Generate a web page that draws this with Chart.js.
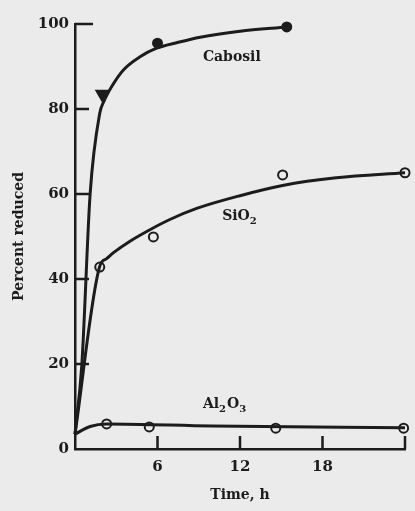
<!DOCTYPE html>
<html>
<head>
<meta charset="utf-8">
<script src="https://cdn.jsdelivr.net/npm/chart.js@4/dist/chart.umd.min.js"></script>
<style>
  html, body { margin: 0; padding: 0; background: #ebebeb; }
  canvas { display: block; }
</style>
</head>
<body>
<canvas id="chart" width="415" height="511"></canvas>
<script>
// ===========================
// DATA
// ===========================
const xTicks = [6, 12, 18, 24];
const yTicks = [0, 20, 40, 60, 80, 100];

// measured points
const cabosilHours  = [2.0, 6.0, 15.4];
const cabosilValues = [83.5, 95.5, 99.3];
const sio2Hours     = [1.8, 5.7, 15.1, 24];
const sio2Values    = [42.8, 49.9, 64.5, 65];
const aloHours      = [2.3, 5.4, 14.6, 23.9];
const aloValues     = [5.9, 5.2, 4.9, 4.9];

// hand-drawn fitted curves
const cabosilCurveHours  = [0, 0.5, 1.1, 1.8, 2.1, 2.67, 3.52, 4.73, 5.94, 7.4, 9.1, 12, 15.4];
const cabosilCurveValues = [3.5, 20, 60, 79, 81.8, 85.3, 89.2, 92.3, 94.3, 95.6, 96.9, 98.3, 99.3];
const sio2CurveHours     = [0, 1.8, 2.3, 2.8, 4.0, 5.45, 6.9, 8.85, 12, 15.1, 19, 24];
const sio2CurveValues    = [3.5, 43, 44.8, 46.2, 48.9, 51.6, 54.0, 56.6, 59.6, 62.0, 63.8, 65];
const aloCurveHours      = [0, 1.1, 2.3, 10, 24];
const aloCurveValues     = [3.5, 5.3, 5.9, 5.4, 5.0];

// series labels: [text parts, hour, percent]
const seriesLabels = [
  { parts: [['Cabosil', false]], x: 9.3, y: 91.3 },
  { parts: [['SiO', false], ['2', true]], x: 10.7, y: 53.9 },
  { parts: [['Al', false], ['2', true], ['O', false], ['3', true]], x: 9.3, y: 9.6 }
];

const INK = '#1c1c1c';
const FONT = "'DejaVu Serif', serif";

const pts = (xs, ys) => xs.map((x, i) => ({ x, y: ys[i] }));

Chart.defaults.font.family = FONT;
Chart.defaults.font.size = 15;
Chart.defaults.font.weight = 'bold';
Chart.defaults.color = INK;

// ticks point inward, drawn from the scales
const inwardTicks = {
  id: 'inwardTicks',
  afterDatasetsDraw(chart) {
    const { ctx, chartArea, scales: { x, y } } = chart;
    ctx.save();
    ctx.strokeStyle = INK;
    ctx.lineWidth = 2.5;
    ctx.beginPath();
    xTicks.forEach(v => {
      const px = x.getPixelForValue(v);
      ctx.moveTo(px, chartArea.bottom);
      ctx.lineTo(px, chartArea.bottom - 13);
    });
    yTicks.filter(v => v > 0).forEach(v => {
      const py = y.getPixelForValue(v);
      ctx.moveTo(chartArea.left, py);
      ctx.lineTo(chartArea.left + (v === 100 ? 18 : 14), py);
    });
    ctx.stroke();
    ctx.restore();
  }
};

const curveLabels = {
  id: 'curveLabels',
  afterDatasetsDraw(chart) {
    const { ctx, scales: { x, y } } = chart;
    ctx.save();
    ctx.fillStyle = INK;
    ctx.textBaseline = 'alphabetic';
    seriesLabels.forEach(l => {
      let px = x.getPixelForValue(l.x);
      const py = y.getPixelForValue(l.y);
      l.parts.forEach(([t, sub]) => {
        ctx.font = `bold ${sub ? 10 : 14}px ${FONT}`;
        ctx.fillText(t, px, sub ? py + 4 : py);
        px += ctx.measureText(t).width + (sub ? 1 : 0);
      });
    });
    ctx.restore();
  }
};

const curve = (xs, ys) => ({
  data: pts(xs, ys),
  showLine: true,
  borderColor: INK,
  borderWidth: 3,
  pointRadius: 0,
  cubicInterpolationMode: 'monotone',
  clip: false
});

const markers = (xs, ys, style, filled, radius, rotation) => ({
  data: pts(xs, ys),
  showLine: false,
  pointStyle: style,
  pointRadius: radius,
  rotation: rotation || 0,
  pointBackgroundColor: filled ? INK : '#ebebeb',
  pointBorderColor: INK,
  pointBorderWidth: 2,
  clip: false
});

const cabosilMarkers = markers(cabosilHours, cabosilValues, 'circle', true, 4.5);
// the 2 h Cabosil point is a downward triangle
cabosilMarkers.pointStyle = ['triangle', 'circle', 'circle'];
cabosilMarkers.pointRadius = [7, 4.5, 4.5];
cabosilMarkers.rotation = [180, 0, 0];

new Chart(document.getElementById('chart'), {
  type: 'scatter',
  data: {
    datasets: [
      curve(cabosilCurveHours, cabosilCurveValues),
      curve(sio2CurveHours, sio2CurveValues),
      curve(aloCurveHours, aloCurveValues),
      cabosilMarkers,
      markers(sio2Hours, sio2Values, 'circle', false, 4.5),
      markers(aloHours, aloValues, 'circle', false, 4.5)
    ]
  },
  options: {
    responsive: false,
    animation: false,
    layout: { padding: { top: 24, right: 10, left: 0, bottom: 0 } },
    plugins: { legend: { display: false }, tooltip: { enabled: false } },
    scales: {
      x: {
        type: 'linear', min: 0, max: 24,
        afterBuildTicks: s => { s.ticks = xTicks.map(v => ({ value: v })); },
        afterFit: s => { s.height = 62; },
        ticks: { padding: 9, callback: v => (v === 24 ? '' : v) },
        grid: { display: true, drawOnChartArea: false, drawTicks: false },
        border: { display: true, color: INK, width: 2.5 },
        title: { display: true, text: 'Time, h', font: { size: 14, weight: 'bold' }, padding: { bottom: 7 } }
      },
      y: {
        type: 'linear', min: 0, max: 100,
        afterBuildTicks: s => { s.ticks = yTicks.map(v => ({ value: v })); },
        afterFit: s => { s.width = 75; },
        ticks: { padding: 6 },
        grid: { display: true, drawOnChartArea: false, drawTicks: false },
        border: { display: true, color: INK, width: 2.5 },
        title: { display: true, text: 'Percent reduced', font: { size: 14, weight: 'bold' }, padding: { top: 11 } }
      }
    }
  },
  plugins: [inwardTicks, curveLabels]
});
</script>
</body>
</html>
